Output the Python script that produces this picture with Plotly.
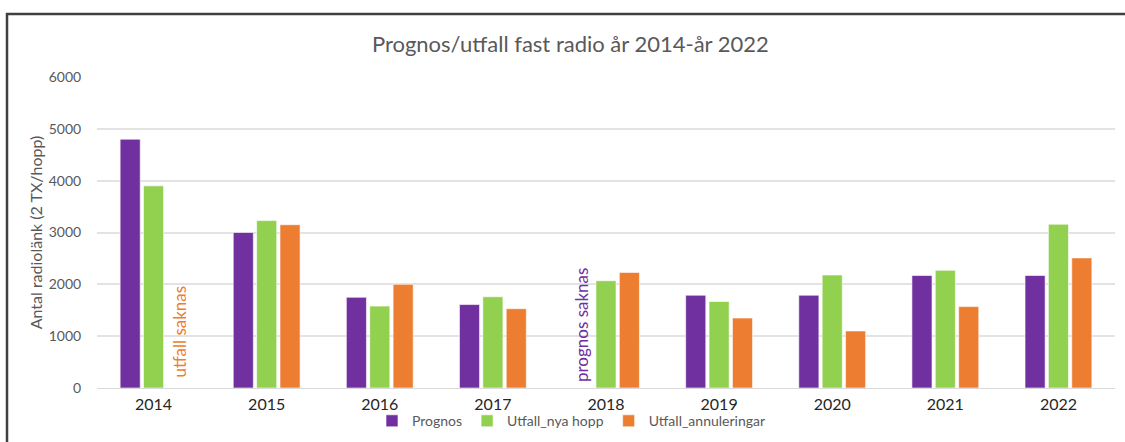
import plotly.graph_objects as go

years = ["2014", "2015", "2016", "2017", "2018", "2019", "2020", "2021", "2022"]
prognos = [4800, 3000, 1750, 1610, None, 1790, 1790, 2170, 2170]
utfall_nya = [3900, 3230, 1580, 1760, 2070, 1670, 2180, 2270, 3160]
utfall_ann = [None, 3150, 2000, 1530, 2230, 1350, 1100, 1570, 2510]
y_ticks = [0, 1000, 2000, 3000, 4000, 5000, 6000]

font = "Lato, 'Open Sans', sans-serif"
gray = "#595959"

fig = go.Figure()
for name, vals, col in [("Prognos", prognos, "#7030A0"),
                        ("Utfall_nya hopp", utfall_nya, "#92D050"),
                        ("Utfall_annuleringar", utfall_ann, "#ED7D31")]:
    fig.add_trace(go.Bar(x=years, y=vals, name=name, marker_color=col,
                         marker_line=dict(color="rgba(255,255,255,0.6)", width=1)))

fig.update_layout(
    width=1125, height=442,
    margin=dict(l=97, r=10, t=77, b=54, autoexpand=False),
    paper_bgcolor="white", plot_bgcolor="white",
    barmode="group", bargap=0.38, bargroupgap=0.14,
    title=dict(text="Prognos/utfall fast radio år 2014-år 2022", x=0.507, xanchor="center",
               xref="container", yref="container",
               y=0.9, yanchor="middle", font=dict(family=font, size=22, color=gray)),
    font=dict(family=font, color=gray),
    legend=dict(orientation="h", x=0.508, xanchor="center", xref="container",
                yref="container", y=0.047, yanchor="middle", bgcolor="rgba(0,0,0,0)",
                font=dict(family=font, size=14, color=gray), traceorder="normal"),
    xaxis=dict(type="category", range=[-0.5, len(years) - 0.5],
               tickfont=dict(family=font, size=16, color="#262626"),
               showgrid=False, showline=True, linecolor="#d9d9d9", linewidth=1,
               ticks="outside", ticklen=2, tickcolor="rgba(0,0,0,0)"),
    yaxis=dict(range=[0, 6000], tickvals=y_ticks, showgrid=True, gridcolor="#e3e3e3",
               gridwidth=1.5, zeroline=False, tickfont=dict(family=font, size=14, color=gray),
               ticks="outside", ticklen=12, tickcolor="rgba(0,0,0,0)",
               title=dict(text="Antal radiolänk (2 TX/hopp)", standoff=2,
                          font=dict(family=font, size=16, color=gray))),
)

fig.add_annotation(x=years.index("2014"), y=0, xref="x", yref="y", text="utfall saknas",
                   textangle=-90, showarrow=False, xshift=25, yshift=8, yanchor="bottom",
                   xanchor="center", font=dict(family=font, size=17, color="#ED7D31"))
fig.add_annotation(x=years.index("2018"), y=0, xref="x", yref="y", text="prognos saknas",
                   textangle=-90, showarrow=False, xshift=-25, yshift=4, yanchor="bottom",
                   xanchor="center", font=dict(family=font, size=17, color="#7030A0"))

fig.add_shape(type="rect", xref="paper", yref="paper", x0=-0.0884, x1=1.03, y0=-0.4, y1=1.2026,
              line=dict(color="#404040", width=2.5), fillcolor="rgba(0,0,0,0)", layer="below")

fig.write_html("out.html", config={"displayModeBar": False},
               post_script="document.body.style.margin='0';")
